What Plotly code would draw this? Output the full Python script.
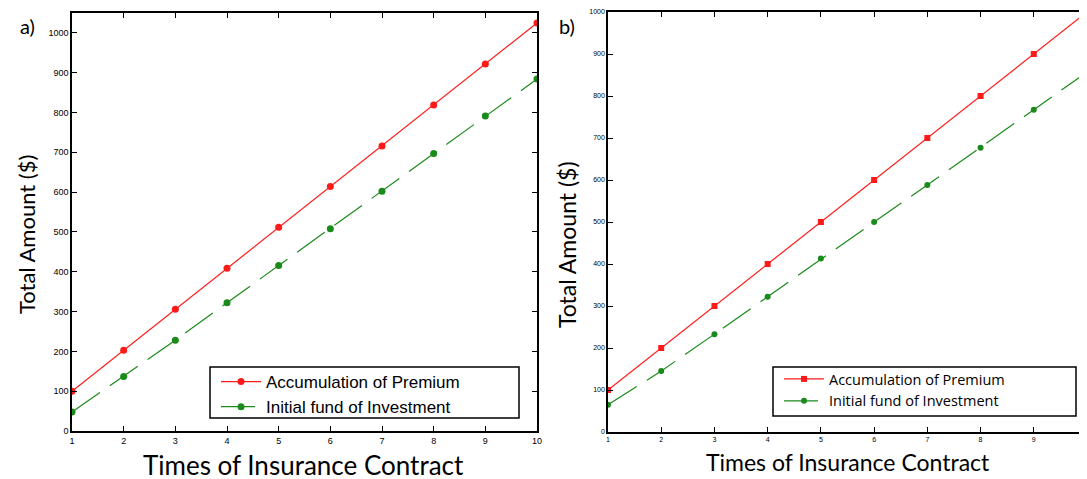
import plotly.graph_objects as go

W, H = 1087, 479
OFF = 8  # page body margin offset of the rendered figure

times = [1, 2, 3, 4, 5, 6, 7, 8, 9, 10]
premium_a = [100, 203, 306, 409, 512, 614, 716, 819, 922, 1025]
invest_a = [48, 137, 228, 322, 416, 508, 602, 697, 791, 884]
premium_b = [100, 200, 300, 400, 500, 600, 700, 800, 900, 1000]
invest_b = [65, 145, 233, 322, 413, 500, 588, 677, 767, 857]

name_p = "Accumulation of Premium"
name_i = "Initial fund of Investment"
x_title = "Times of Insurance Contract"
y_title = "Total Amount ($)"

RED = "#ff1a1a"
GREEN = "#1a8a1a"

fig = go.Figure()

fig.add_trace(go.Scatter(x=times, y=premium_a, name=name_p, mode="lines+markers",
                         line=dict(color=RED, width=1.2),
                         marker=dict(symbol="circle", size=7, color=RED),
                         xaxis="x", yaxis="y", legend="legend"))
fig.add_trace(go.Scatter(x=times, y=invest_a, name=name_i, mode="lines+markers",
                         line=dict(color=GREEN, width=1.2, dash="34px,12px"),
                         marker=dict(symbol="circle", size=7, color=GREEN),
                         xaxis="x", yaxis="y", legend="legend"))
fig.add_trace(go.Scatter(x=times, y=premium_b, name=name_p, mode="lines+markers",
                         line=dict(color=RED, width=1.2),
                         marker=dict(symbol="square", size=6, color=RED),
                         xaxis="x2", yaxis="y2", legend="legend2"))
fig.add_trace(go.Scatter(x=times, y=invest_b, name=name_i, mode="lines+markers",
                         line=dict(color=GREEN, width=1.2, dash="34px,12px"),
                         marker=dict(symbol="circle", size=6, color=GREEN),
                         xaxis="x2", yaxis="y2", legend="legend2"))


def px_x(p):
    return (p - OFF) / W


def px_y(p):
    return 1 - (p - OFF) / H


axis_common = dict(showgrid=False, zeroline=False, showline=True, linecolor="black",
                   linewidth=1.5, mirror="ticks", ticks="inside", tickcolor="black",
                   ticklen=5, tickwidth=1.2, automargin=False)

fig.update_layout(
    width=W, height=H,
    margin=dict(l=0, r=0, t=0, b=0, autoexpand=False),
    paper_bgcolor="white", plot_bgcolor="white",
    font=dict(family="Liberation Sans, Arial", color="black"),
    xaxis=dict(domain=[px_x(72), px_x(537)], range=[1, 10], tickvals=times,
               anchor="y", tickfont=dict(size=9), **axis_common),
    yaxis=dict(domain=[px_y(431), px_y(13)], range=[0, 1050], dtick=100, tick0=0,
               anchor="x", tickfont=dict(size=9), **axis_common),
    xaxis2=dict(domain=[px_x(608), px_x(1087)], range=[1, 10], tickvals=times,
                anchor="y2", tickfont=dict(size=7), **axis_common),
    yaxis2=dict(domain=[px_y(432), px_y(12)], range=[0, 1000], dtick=100, tick0=0,
                anchor="x2", tickfont=dict(size=7), **axis_common),
    legend=dict(x=px_x(216), y=px_y(364), xanchor="left", yanchor="top",
                bgcolor="rgba(0,0,0,0)", borderwidth=0,
                font=dict(family="Liberation Sans, Arial", size=17),
                itemwidth=40, tracegroupgap=0),
    legend2=dict(x=px_x(779), y=px_y(363), xanchor="left", yanchor="top",
                 bgcolor="rgba(0,0,0,0)", borderwidth=0,
                 font=dict(family="Open Sans, Noto Sans", size=14.5),
                 itemwidth=40, tracegroupgap=0),
    showlegend=True,
)

# legend frames
fig.add_shape(type="rect", xref="paper", yref="paper",
              x0=px_x(210), x1=px_x(519), y0=px_y(418), y1=px_y(367),
              line=dict(color="black", width=1.5), fillcolor="white", layer="below")
fig.add_shape(type="rect", xref="paper", yref="paper",
              x0=px_x(773), x1=px_x(1076), y0=px_y(416), y1=px_y(367),
              line=dict(color="black", width=1.5), fillcolor="white", layer="below")

annots = [
    dict(text="a)", x=px_x(27), y=px_y(26), font=dict(size=20, family="Lato")),
    dict(text="b)", x=px_x(567), y=px_y(26), font=dict(size=20, family="Lato")),
    dict(text=x_title, x=px_x(303), y=px_y(465), font=dict(size=26, family="Lato")),
    dict(text=x_title, x=px_x(848), y=px_y(462), font=dict(size=23, family="Lato")),
    dict(text=y_title, x=px_x(26), y=px_y(235), textangle=-90, font=dict(size=22, family="Lato")),
    dict(text=y_title, x=px_x(567), y=px_y(245), textangle=-90, font=dict(size=23, family="Lato")),
]
for a in annots:
    fig.add_annotation(xref="paper", yref="paper", showarrow=False,
                       xanchor="center", yanchor="middle", **a)

fig.write_html("out.html")
